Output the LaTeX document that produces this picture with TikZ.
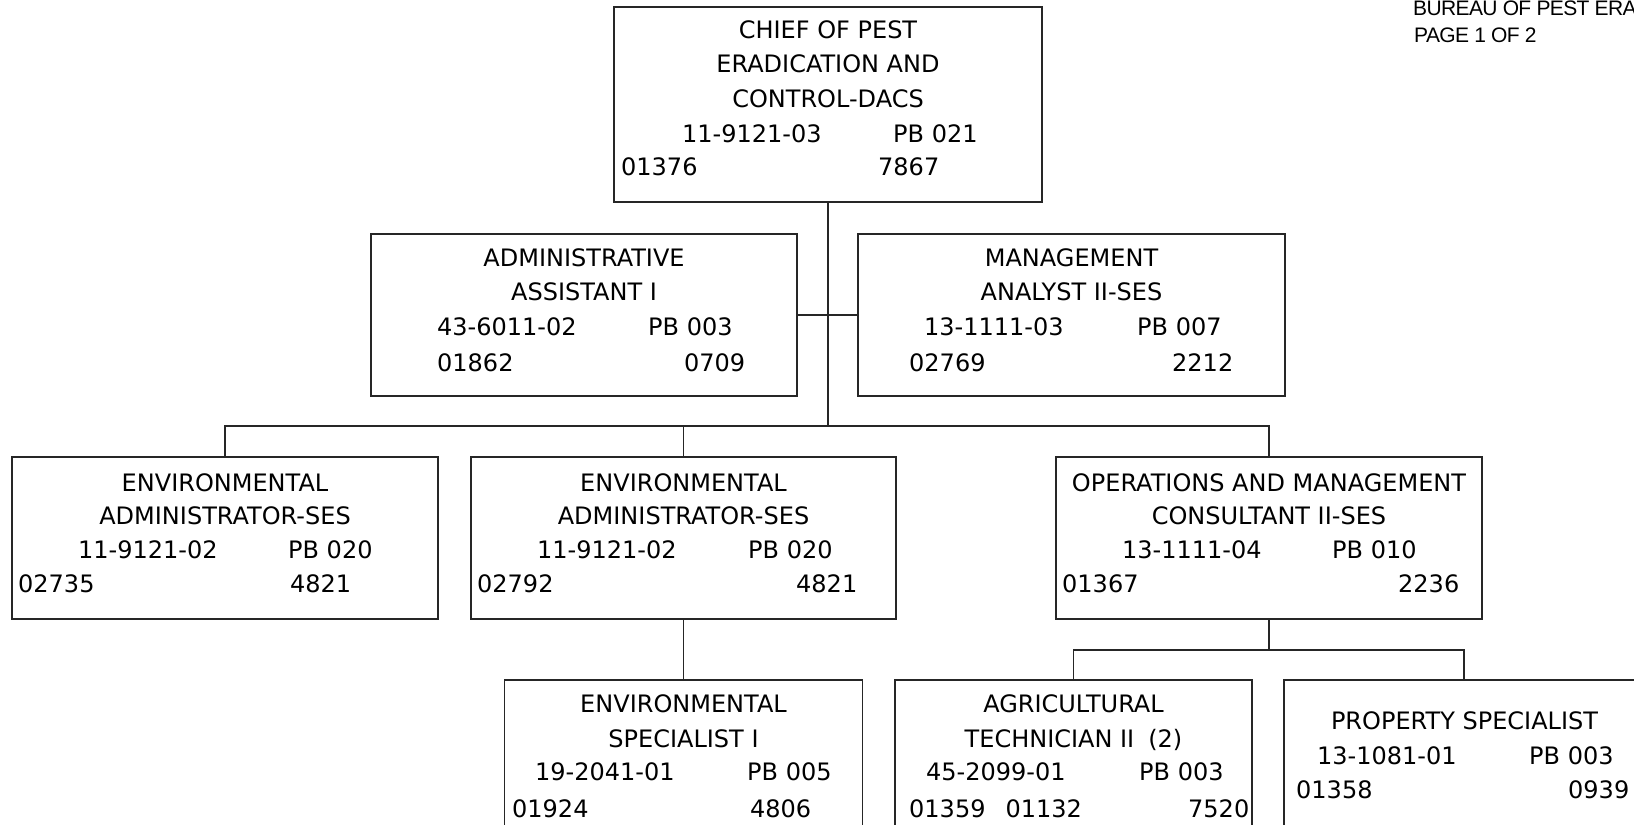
\documentclass[tikz,border=0pt]{standalone}
\usepackage{fontspec}
\setmainfont{DejaVu Sans}
\newfontfamily\hdrfont{Liberation Sans}[LetterSpace=-3]
\begin{document}
\begin{tikzpicture}[x=1pt,y=-1pt,
  box/.style={draw=black!85, line width=1.3pt, minimum width=#1, minimum height=162pt, inner sep=0pt, outer sep=0pt},
  conn/.style={draw=black!85, line width=1.3pt},
  ttl/.style={anchor=base, inner sep=0pt, font=\fontsize{24}{28}\selectfont, text=black},
  lft/.style={ttl, anchor=base west},
  hdr/.style={anchor=base west, inner sep=0pt, font=\hdrfont\fontsize{21}{22}\selectfont, text=black}]
\useasboundingbox (0,0) rectangle (1634,825);

% page header
\node[hdr] (hdr1) at (1413,15) {BUREAU OF PEST ERA};
\node[hdr] (hdr2) at (1414,42) {PAGE 1 OF 2};

% boxes
\node[box=428, minimum height=195pt] (top) at (828,104.5) {};
\node[box=426] (admin) at (584,315) {};
\node[box=427] (mgmt) at (1071.5,315) {};
\node[box=426] (ea1) at (225,538) {};
\node[box=425] (ea2) at (683.5,538) {};
\node[box=426] (ops) at (1269,538) {};
\node[box=358] (spec) at (683.5,761) {};
\node[box=357] (agri) at (1073.5,761) {};
\node[box=360] (prop) at (1464,761) {};

% connectors
\coordinate (bus) at (828,426);
\coordinate (sub) at (1269,650);
\draw[conn] (top.south) -- (bus);
\draw[conn] (admin.east) -- (mgmt.west);
\draw[conn] (ea1.north) |- (bus) -| (ops.north);
\draw[conn] (ea2.north) -- (ea2.north |- bus);
\draw[conn] (ea2.south) -- (spec.north);
\draw[conn] (ops.south) -- (sub);
\draw[conn] (agri.north) |- (sub) -| (prop.north);

% chief
\node[ttl] (top-a) at (828,38) {CHIEF OF PEST};
\node[ttl] (top-b) at (828,72) {ERADICATION AND};
\node[ttl] (top-c) at (828,107) {CONTROL-DACS};
\node[lft] (top-d) at (682,142) {11-9121-03};
\node[lft] (top-e) at (893,142) {PB 021};
\node[lft] (top-f) at (621,175) {01376};
\node[lft] (top-g) at (878,175) {7867};

% administrative assistant
\node[ttl] (admin-a) at (584,266) {ADMINISTRATIVE};
\node[ttl] (admin-b) at (584,300) {ASSISTANT I};
\node[lft] (admin-c) at (437,335) {43-6011-02};
\node[lft] (admin-d) at (648,335) {PB 003};
\node[lft] (admin-e) at (437,371) {01862};
\node[lft] (admin-f) at (684,371) {0709};

% management analyst
\node[ttl] (mgmt-a) at (1071.5,266) {MANAGEMENT};
\node[ttl] (mgmt-b) at (1071.5,300) {ANALYST II-SES};
\node[lft] (mgmt-c) at (924,335) {13-1111-03};
\node[lft] (mgmt-d) at (1137,335) {PB 007};
\node[lft] (mgmt-e) at (909,371) {02769};
\node[lft] (mgmt-f) at (1172,371) {2212};

% environmental administrator (1)
\node[ttl] (ea1-a) at (225,491) {ENVIRONMENTAL};
\node[ttl] (ea1-b) at (225,524) {ADMINISTRATOR-SES};
\node[lft] (ea1-c) at (78,558) {11-9121-02};
\node[lft] (ea1-d) at (288,558) {PB 020};
\node[lft] (ea1-e) at (18,592) {02735};
\node[lft] (ea1-f) at (290,592) {4821};

% environmental administrator (2)
\node[ttl] (ea2-a) at (683.5,491) {ENVIRONMENTAL};
\node[ttl] (ea2-b) at (683.5,524) {ADMINISTRATOR-SES};
\node[lft] (ea2-c) at (537,558) {11-9121-02};
\node[lft] (ea2-d) at (748,558) {PB 020};
\node[lft] (ea2-e) at (477,592) {02792};
\node[lft] (ea2-f) at (796,592) {4821};

% operations and management consultant
\node[ttl] (ops-a) at (1269,491) {OPERATIONS AND MANAGEMENT};
\node[ttl] (ops-b) at (1269,524) {CONSULTANT II-SES};
\node[lft] (ops-c) at (1122,558) {13-1111-04};
\node[lft] (ops-d) at (1332,558) {PB 010};
\node[lft] (ops-e) at (1062,592) {01367};
\node[lft] (ops-f) at (1398,592) {2236};

% environmental specialist
\node[ttl] (spec-a) at (683.5,712) {ENVIRONMENTAL};
\node[ttl] (spec-b) at (683.5,747) {SPECIALIST I};
\node[lft] (spec-c) at (535,780) {19-2041-01};
\node[lft] (spec-d) at (747,780) {PB 005};
\node[lft] (spec-e) at (512,817) {01924};
\node[lft] (spec-f) at (750,817) {4806};

% agricultural technician
\node[ttl] (agri-a) at (1073.5,712) {AGRICULTURAL};
\node[ttl] (agri-b) at (1073.5,747) {TECHNICIAN II\hspace{14pt}(2)};
\node[lft] (agri-c) at (926,780) {45-2099-01};
\node[lft] (agri-d) at (1139,780) {PB 003};
\node[lft] (agri-e) at (909,817) {01359\hspace{20pt}01132};
\node[lft] (agri-f) at (1188,817) {7520};

% property specialist
\node[ttl] (prop-a) at (1464.5,729) {PROPERTY SPECIALIST};
\node[lft] (prop-b) at (1317,764) {13-1081-01};
\node[lft] (prop-c) at (1529,764) {PB 003};
\node[lft] (prop-d) at (1296,798) {01358};
\node[lft] (prop-e) at (1568,798) {0939};
\end{tikzpicture}
\end{document}
